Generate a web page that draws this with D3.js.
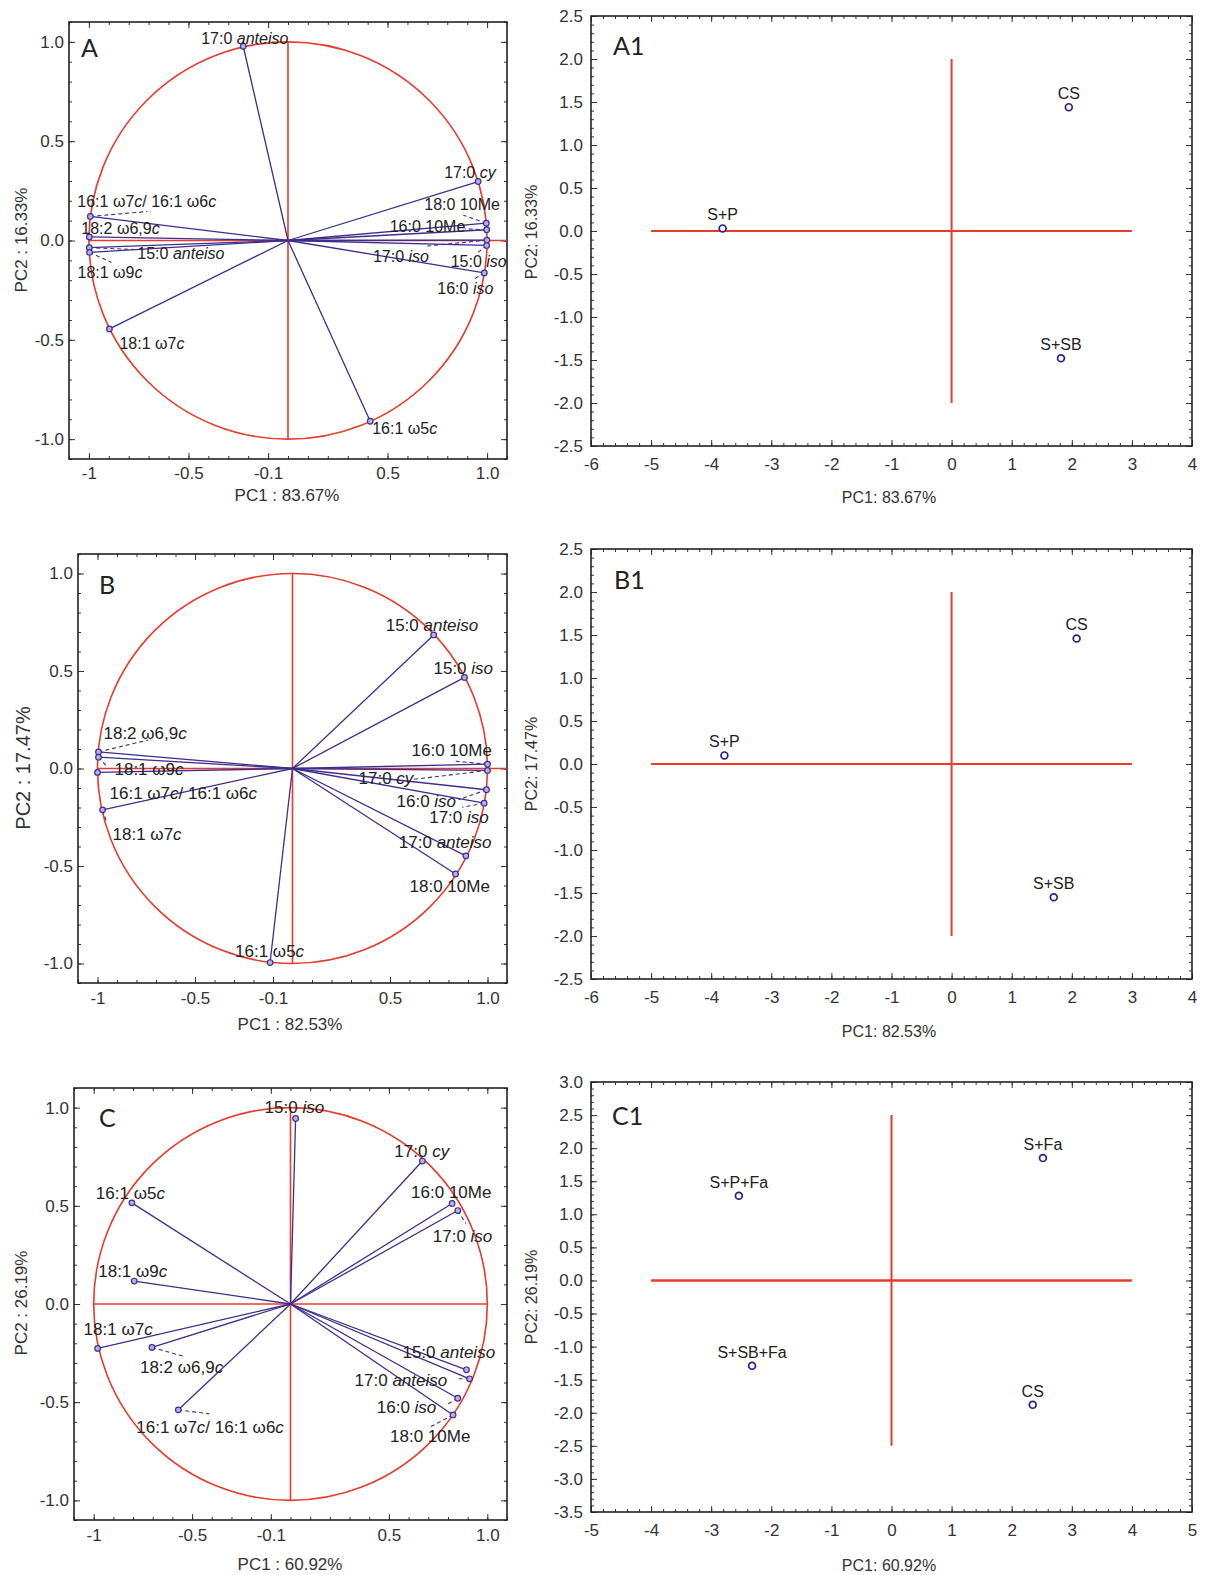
<!DOCTYPE html>
<html lang="en">
<head>
  <meta charset="UTF-8">
  <title>PCA loadings and scores</title>
  <style>
    body { margin: 0; background: #fff; }
  </style>
</head>
<body>
  <svg id="svg" width="1210" height="1575"></svg>

  <script src="https://d3js.org/d3.v7.min.js"></script>
  <script>
    // ---------- data: loadings (text between * is italic) ----------
    const fattyA = ['17:0 *anteiso*', '17:0 *cy*', '18:0 10Me', '16:0 10Me', '17:0 *iso*', '15:0 *iso*', '16:0 *iso*',
      '16:1 ω7*c*/ 16:1 ω6*c*', '18:2 ω6,9*c*', '15:0 *anteiso*', '18:1 ω9*c*', '18:1 ω7*c*', '16:1 ω5*c*']
    const pc1A = [-0.225, 0.955, 0.996, 0.998, 0.999, 0.998, 0.986, -0.993, -0.998, -0.998, -0.997, -0.897, 0.413]
    const pc2A = [0.978, 0.297, 0.087, 0.054, 0.002, -0.025, -0.163, 0.121, 0.018, -0.036, -0.060, -0.445, -0.910]

    const fattyB = ['15:0 *anteiso*', '15:0 *iso*', '16:0 10Me', '17:0 *cy*', '16:0 *iso*', '17:0 *iso*', '17:0 *anteiso*',
      '18:0 10Me', '18:2 ω6,9*c*', '18:1 ω9*c*', '16:1 ω7*c*/ 16:1 ω6*c*', '18:1 ω7*c*', '16:1 ω5*c*']
    const pc1B = [0.724, 0.882, 1.0, 1.0, 0.995, 0.983, 0.889, 0.836, -0.995, -0.995, -1.0, -0.974, -0.115]
    const pc2B = [0.685, 0.467, 0.022, -0.010, -0.109, -0.178, -0.448, -0.541, 0.085, 0.058, -0.020, -0.212, -0.995]

    const fattyC = ['15:0 *iso*', '17:0 *cy*', '16:0 10Me', '17:0 *iso*', '16:1 ω5*c*', '18:1 ω9*c*', '18:1 ω7*c*',
      '18:2 ω6,9*c*', '16:1 ω7*c*/ 16:1 ω6*c*', '15:0 *anteiso*', '17:0 *anteiso*', '16:0 *iso*', '18:0 10Me']
    const pc1C = [0.026, 0.670, 0.821, 0.850, -0.806, -0.794, -0.980, -0.704, -0.570, 0.894, 0.910, 0.850, 0.826]
    const pc2C = [0.945, 0.728, 0.512, 0.476, 0.515, 0.117, -0.226, -0.221, -0.539, -0.335, -0.381, -0.480, -0.565]

    // ---------- data: scores ----------
    const groupsA1 = ['CS', 'S+SB', 'S+P']
    const scoreA1x = [1.95, 1.82, -3.81]
    const scoreA1y = [1.44, -1.48, 0.03]

    const groupsB1 = ['CS', 'S+SB', 'S+P']
    const scoreB1x = [2.08, 1.70, -3.78]
    const scoreB1y = [1.46, -1.55, 0.10]

    const groupsC1 = ['S+Fa', 'S+P+Fa', 'S+SB+Fa', 'CS']
    const scoreC1x = [2.52, -2.54, -2.32, 2.35]
    const scoreC1y = [1.85, 1.28, -1.29, -1.88]

    // ---------- tick labels ----------
    const loadXTicks = [-1, -0.5, -0.1, 0.5, 1]
    const loadXLabels = ['-1', '-0.5', '-0.1', '0.5', '1.0']
    const loadYTicks = [-1, -0.5, 0, 0.5, 1]
    const scoreXTicksAB = [-6, -5, -4, -3, -2, -1, 0, 1, 2, 3, 4]
    const scoreYTicksAB = [-2.5, -2, -1.5, -1, -0.5, 0, 0.5, 1, 1.5, 2, 2.5]
    const scoreXTicksC = [-5, -4, -3, -2, -1, 0, 1, 2, 3, 4, 5]
    const scoreYTicksC = [-3.5, -3, -2.5, -2, -1.5, -1, -0.5, 0, 0.5, 1, 1.5, 2, 2.5, 3]

    // ---------- label placement (pixel offsets from the marker) ----------
    const labelOffA = [[-42, -2], [-34, -4], [-62, -13], [-97, 2], [-114, 22], [-36, 22], [-47, 21],
      [-13, -9], [-8, -3], [48, 11], [-12, 26], [10, 20], [2, 13]]
    const leaderA = [null, null, [-23, -8], [-22, -1], [-60, 6], [-10, 8], [-10, 6],
      [57, -5], null, [48, 2], [22, 10], null, null]
    const labelOffB = [[-48, -4], [-31, -3], [-76, -8], [-129, 14], [-90, 17], [-55, 20], [-67, -8],
      [-46, 18], [5, -13], [16, 18], [12, 27], [10, 30], [-35, -6]]
    const leaderB = [null, null, [-32, -3], [-75, 9], [-28, 10], [-22, 4], null,
      null, [50, -12], [9, 10], null, [4, 12], null]
    const labelOffC = [[-31, -5], [-28, -4], [-41, -5], [-25, 31], [-36, -4], [-36, -4], [-14, -13],
      [-12, 26], [-42, 23], [-64, -12], [-115, 7], [-81, 15], [-63, 27]]
    const leaderC = [null, null, null, [8, 13], null, null, null,
      [32, 9], [31, 4], null, [-12, 0], [-12, 7], [-23, 12]]

    const RED = '#e83b2c'
    const VEC = '#3d2d8f'
    const INK = '#222'
    const FONT = '"Liberation Sans", Arial, sans-serif'

    const svg = d3.select('#svg')

    // plain hyphen minus, as in the original
    const fmt1 = d => d.toFixed(1)
    const fmt0 = d => String(d)

    // add text with *italic* parts as tspans
    function richText(sel, str) {
      str.split('*').forEach((part, i) => {
        if (!part) return
        sel.append('tspan').text(part).attr('font-style', i % 2 ? 'italic' : 'normal')
      })
    }

    // frame, ticks on all sides, tick labels
    function frame(g, x, y, o) {
      const [x0, x1] = x.range()
      const [y1, y0] = y.range()
      const clean = s => s.select('.domain').remove()

      g.append('g').attr('transform', `translate(0,${y1})`)
        .call(d3.axisBottom(x).tickValues(o.xMinor).tickSizeInner(-3).tickSizeOuter(0).tickFormat(''))
        .call(clean)
      g.append('g').attr('transform', `translate(0,${y0})`)
        .call(d3.axisTop(x).tickValues(o.xMinor).tickSizeInner(-3).tickSizeOuter(0).tickFormat(''))
        .call(clean)
      g.append('g').attr('transform', `translate(${x0},0)`)
        .call(d3.axisLeft(y).tickValues(o.yMinor).tickSizeInner(-3).tickSizeOuter(0).tickFormat(''))
        .call(clean)
      g.append('g').attr('transform', `translate(${x1},0)`)
        .call(d3.axisRight(y).tickValues(o.yMinor).tickSizeInner(-3).tickSizeOuter(0).tickFormat(''))
        .call(clean)
      g.append('g').attr('transform', `translate(0,${y0})`)
        .call(d3.axisTop(x).tickValues(o.xTicks).tickSizeInner(-6).tickSizeOuter(0).tickFormat(''))
        .call(clean)
      g.append('g').attr('transform', `translate(${x1},0)`)
        .call(d3.axisRight(y).tickValues(o.yTicks).tickSizeInner(-6).tickSizeOuter(0).tickFormat(''))
        .call(clean)

      const bottom = g.append('g').attr('transform', `translate(0,${y1})`)
        .call(d3.axisBottom(x).tickValues(o.xTicks).tickSizeInner(-6).tickSizeOuter(0)
          .tickPadding(o.xPad).tickFormat(o.xFormat))
        .call(clean)
      const left = g.append('g').attr('transform', `translate(${x0},0)`)
        .call(d3.axisLeft(y).tickValues(o.yTicks).tickSizeInner(-6).tickSizeOuter(0)
          .tickPadding(o.yPad).tickFormat(fmt1))
        .call(clean)
      ;[bottom, left].forEach(a => a.attr('font-family', FONT).attr('font-size', o.tickFont)
        .selectAll('text').attr('fill', '#333'))
      g.selectAll('.tick line').attr('stroke', '#333')

      g.append('rect')
        .attr('x', x0).attr('y', y0)
        .attr('width', x1 - x0).attr('height', y1 - y0)
        .attr('fill', 'none').attr('stroke', INK).attr('stroke-width', 1.6)
    }

    function titles(g, o) {
      g.append('text')
        .attr('x', o.xTitle[1]).attr('y', o.xTitle[2])
        .attr('text-anchor', 'middle')
        .attr('font-family', FONT).attr('font-size', o.titleFont).attr('fill', '#333')
        .text(o.xTitle[0])
      g.append('text')
        .attr('transform', `translate(${o.yTitle[1]},${o.yTitle[2]}) rotate(-90)`)
        .attr('text-anchor', 'middle').attr('dy', '0.35em')
        .attr('font-family', FONT).attr('font-size', o.yTitleFont || o.titleFont).attr('fill', '#333')
        .text(o.yTitle[0])
      g.append('text')
        .attr('x', o.letter[1]).attr('y', o.letter[2])
        .attr('font-family', 'Lato, "Open Sans", sans-serif').attr('font-size', 25).attr('fill', INK)
        .text(o.letter[0])
    }

    function loadingPanel(p) {
      const [bx0, by0, bx1, by1] = p.box
      const x = d3.scaleLinear().domain([-1.1, 1.1]).range([bx0, bx1])
      const y = d3.scaleLinear().domain([-1.1, 1.1]).range([by1, by0])
      const g = svg.append('g')

      frame(g, x, y, {
        xTicks: loadXTicks, xFormat: (d, i) => loadXLabels[i],
        yTicks: loadYTicks,
        xMinor: d3.range(-11, 12).map(v => v / 10),
        yMinor: d3.range(-11, 12).map(v => v / 10),
        xPad: p.xPad, yPad: 5, tickFont: 17
      })

      // unit circle and axes through the origin
      g.append('ellipse')
        .attr('cx', x(0)).attr('cy', y(0))
        .attr('rx', x(1) - x(0)).attr('ry', y(0) - y(1))
        .attr('fill', 'none').attr('stroke', RED).attr('stroke-width', 1.6)
      g.append('line')
        .attr('x1', x(-1)).attr('x2', x(p.hEnd)).attr('y1', y(0)).attr('y2', y(0))
        .attr('stroke', RED).attr('stroke-width', 1.6)
      g.append('line')
        .attr('x1', x(0)).attr('x2', x(0)).attr('y1', y(1)).attr('y2', y(-1))
        .attr('stroke', RED).attr('stroke-width', 1.6)

      const rows = p.names.map((n, i) => ({
        name: n, px: x(p.pc1[i]), py: y(p.pc2[i]), off: p.off[i], lead: p.lead[i]
      }))

      g.selectAll('line.vec').data(rows).enter().append('line')
        .attr('class', 'vec')
        .attr('x1', x(0)).attr('y1', y(0))
        .attr('x2', d => d.px).attr('y2', d => d.py)
        .attr('stroke', VEC).attr('stroke-width', 1.3)

      g.selectAll('line.lead').data(rows.filter(d => d.lead)).enter().append('line')
        .attr('class', 'lead')
        .attr('x1', d => d.px).attr('y1', d => d.py)
        .attr('x2', d => d.px + d.lead[0]).attr('y2', d => d.py + d.lead[1])
        .attr('stroke', VEC).attr('stroke-width', 1.1).attr('stroke-dasharray', '4,3')

      g.selectAll('circle.pt').data(rows).enter().append('circle')
        .attr('class', 'pt')
        .attr('cx', d => d.px).attr('cy', d => d.py).attr('r', 2.8)
        .attr('fill', '#b9b0e6').attr('stroke', VEC).attr('stroke-width', 1.2)

      g.selectAll('text.lab').data(rows).enter().append('text')
        .attr('class', 'lab')
        .attr('x', d => d.px + d.off[0]).attr('y', d => d.py + d.off[1])
        .attr('font-family', FONT).attr('font-size', p.labFont).attr('fill', INK)
        .each(function (d) { richText(d3.select(this), d.name) })

      titles(g, p)
    }

    function scorePanel(p) {
      const [bx0, by0, bx1, by1] = p.box
      const x = d3.scaleLinear().domain(p.xDom).range([bx0, bx1])
      const y = d3.scaleLinear().domain(p.yDom).range([by1, by0])
      const g = svg.append('g')

      frame(g, x, y, {
        xTicks: p.xTicks, xFormat: fmt0,
        yTicks: p.yTicks,
        xMinor: d3.range(p.xDom[0] * 5, p.xDom[1] * 5 + 1).map(v => v / 5),
        yMinor: d3.range(p.yDom[0] * 10, p.yDom[1] * 10 + 1).map(v => v / 10),
        xPad: 12, yPad: 8, tickFont: 17
      })

      g.append('line')
        .attr('x1', x(p.hLine[0])).attr('x2', x(p.hLine[1])).attr('y1', y(0)).attr('y2', y(0))
        .attr('stroke', RED).attr('stroke-width', p.hWidth)
      g.append('line')
        .attr('x1', x(0)).attr('x2', x(0)).attr('y1', y(p.vLine[1])).attr('y2', y(p.vLine[0]))
        .attr('stroke', RED).attr('stroke-width', 2)

      const rows = p.groups.map((n, i) => ({ name: n, px: x(p.sx[i]), py: y(p.sy[i]) }))

      g.selectAll('circle.sc').data(rows).enter().append('circle')
        .attr('class', 'sc')
        .attr('cx', d => d.px).attr('cy', d => d.py).attr('r', 3.4)
        .attr('fill', '#fff').attr('stroke', '#2c1f8c').attr('stroke-width', 1.7)

      g.selectAll('text.sl').data(rows).enter().append('text')
        .attr('class', 'sl')
        .attr('x', d => d.px).attr('y', d => d.py - 8)
        .attr('text-anchor', 'middle')
        .attr('font-family', FONT).attr('font-size', 16).attr('fill', INK)
        .text(d => d.name)

      titles(g, p)
    }

    loadingPanel({
      names: fattyA, pc1: pc1A, pc2: pc2A, off: labelOffA, lead: leaderA,
      box: [69, 22, 507, 459], hEnd: 1.1, xPad: 8, labFont: 16, titleFont: 17,
      xTitle: ['PC1 : 83.67%', 287, 501], yTitle: ['PC2 : 16.33%', 21, 240], letter: ['A', 81, 57]
    })
    loadingPanel({
      names: fattyB, pc1: pc1B, pc2: pc2B, off: labelOffB, lead: leaderB,
      box: [78, 554, 507, 983], hEnd: 1.1, xPad: 9, labFont: 17, titleFont: 17, yTitleFont: 20,
      xTitle: ['PC1 : 82.53%', 290, 1030], yTitle: ['PC2 : 17.47%', 23, 768], letter: ['B', 99, 594]
    })
    loadingPanel({
      names: fattyC, pc1: pc1C, pc2: pc2C, off: labelOffC, lead: leaderC,
      box: [74, 1088, 507, 1520], hEnd: 1.0, xPad: 9, labFont: 17, titleFont: 17,
      xTitle: ['PC1 : 60.92%', 290, 1570], yTitle: ['PC2 : 26.19%', 21, 1303], letter: ['C', 99, 1127]
    })

    scorePanel({
      groups: groupsA1, sx: scoreA1x, sy: scoreA1y,
      box: [591, 16, 1192, 446], xDom: [-6, 4], yDom: [-2.5, 2.5],
      xTicks: scoreXTicksAB, yTicks: scoreYTicksAB, hLine: [-5, 3], vLine: [-2, 2], hWidth: 2,
      titleFont: 16, xTitle: ['PC1: 83.67%', 889, 503], yTitle: ['PC2: 16.33%', 531, 232], letter: ['A1', 613, 55]
    })
    scorePanel({
      groups: groupsB1, sx: scoreB1x, sy: scoreB1y,
      box: [591, 549, 1192, 979], xDom: [-6, 4], yDom: [-2.5, 2.5],
      xTicks: scoreXTicksAB, yTicks: scoreYTicksAB, hLine: [-5, 3], vLine: [-2, 2], hWidth: 2,
      titleFont: 16, xTitle: ['PC1: 82.53%', 889, 1037], yTitle: ['PC2: 17.47%', 531, 764], letter: ['B1', 614, 589]
    })
    scorePanel({
      groups: groupsC1, sx: scoreC1x, sy: scoreC1y,
      box: [591, 1082, 1192, 1512], xDom: [-5, 5], yDom: [-3.5, 3],
      xTicks: scoreXTicksC, yTicks: scoreYTicksC, hLine: [-4, 4], vLine: [-2.5, 2.5], hWidth: 2.6,
      titleFont: 16, xTitle: ['PC1: 60.92%', 889, 1571], yTitle: ['PC2: 26.19%', 531, 1297], letter: ['C1', 612, 1125]
    })
  </script>
</body>
</html>
